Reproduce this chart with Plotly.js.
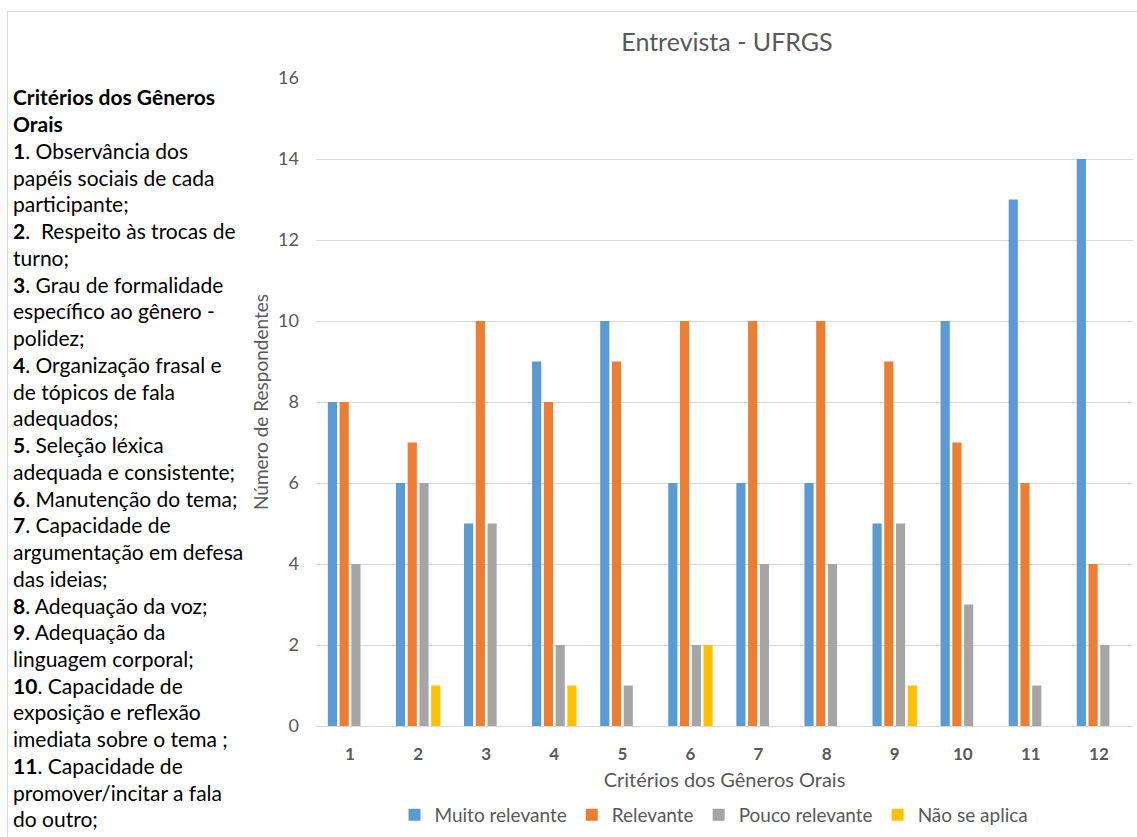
<!DOCTYPE html>
<html>
<head>
<meta charset="utf-8">
<script src="https://cdn.plot.ly/plotly-3.0.1.min.js"></script>
<style>
html,body{margin:0;padding:0;background:#fff;}
#wrap{position:relative;width:1137px;height:837px;overflow:hidden;}
#frame{position:absolute;left:7px;top:11px;width:1140px;height:840px;border-left:1px solid #d9d9d9;border-top:1px solid #d9d9d9;pointer-events:none;}
#chart{position:absolute;left:0;top:0;width:1137px;height:837px;}
</style>
</head>
<body>
<div id="wrap"><div id="chart"></div><div id="frame"></div></div>
<script>
const categories = ["1","2","3","4","5","6","7","8","9","10","11","12"];
const muitoRelevante = [8,6,5,9,10,6,6,6,5,10,13,14];
const relevante = [8,7,10,8,9,10,10,10,9,7,6,4];
const poucoRelevante = [4,6,5,2,1,2,4,4,5,3,1,2];
const naoSeAplica = [0,1,0,1,0,2,0,0,1,0,0,0];
const seriesNames = ["Muito relevante","Relevante","Pouco relevante","Não se aplica"];
const seriesColors = ["#5b9bd5","#ed7d31","#a5a5a5","#ffc000"];
const chartTitle = "Entrevista - UFRGS";
const xTitle = "Critérios dos Gêneros Orais";
const yTitle = "Número de Respondentes";
const sideLines = [
  "<b>Critérios dos Gêneros</b>",
  "<b>Orais</b>",
  "<b>1</b>. Observância dos",
  "papéis sociais de cada",
  "participante;",
  "<b>2</b>.  Respeito às trocas de",
  "turno;",
  "<b>3</b>. Grau de formalidade",
  "específico ao gênero -",
  "polidez;",
  "<b>4</b>. Organização frasal e",
  "de tópicos de fala",
  "adequados;",
  "<b>5</b>. Seleção léxica",
  "adequada e consistente;",
  "<b>6</b>. Manutenção do tema;",
  "<b>7</b>. Capacidade de",
  "argumentação em defesa",
  "das ideias;",
  "<b>8</b>. Adequação da voz;",
  "<b>9</b>. Adequação da",
  "linguagem corporal;",
  "<b>10</b>. Capacidade de",
  "exposição e reflexão",
  "imediata sobre o tema ;",
  "<b>11</b>. Capacidade de",
  "promover/incitar a fala",
  "do outro;"
];

const FONT = "Lato, 'Open Sans', sans-serif";
const values = [muitoRelevante, relevante, poucoRelevante, naoSeAplica];
const traces = values.map((v, i) => ({
  type: "bar",
  name: seriesNames[i],
  x: categories,
  y: v,
  marker: {color: seriesColors[i]},
  hoverinfo: "x+y+name"
}));

const W = 1137, H = 837;
const ml = 316, mr = 4, mt = 78, mb = 110;
const plotW = W - ml - mr;
const plotH = H - mt - mb;
const annotations = sideLines.map((t, i) => ({
  text: t,
  xref: "paper", yref: "paper",
  x: (11 - ml) / plotW,
  y: (H - mb - (97 + i * 26.78)) / plotH,
  xanchor: "left", yanchor: "middle",
  showarrow: false,
  align: "left",
  font: {family: FONT, size: 21, color: "#000000"}
}));

const layout = {
  width: W, height: H,
  margin: {l: ml, r: mr, t: mt, b: mb, pad: 0},
  paper_bgcolor: "#ffffff",
  plot_bgcolor: "#ffffff",
  font: {family: FONT, color: "#595959"},
  title: {
    text: chartTitle,
    font: {family: FONT, size: 25, color: "#595959"},
    xref: "container", yref: "container",
    x: 727 / W, y: 1 - 42 / H, xanchor: "center", yanchor: "middle"
  },
  barmode: "group",
  bargap: 0.31,
  bargroupgap: 0.22,
  xaxis: {
    type: "category",
    title: {text: xTitle, font: {family: FONT, size: 20, color: "#595959"}, standoff: 9},
    tickfont: {family: FONT, size: 17, color: "#595959", weight: "bold"},
    showline: true, linecolor: "#d9d9d9", linewidth: 1,
    ticks: "", showgrid: false,
    ticklabelstandoff: 13
  },
  yaxis: {
    range: [0, 16], dtick: 2,
    title: {text: yTitle, font: {family: FONT, size: 19, color: "#595959"}, standoff: 4},
    tickfont: {family: FONT, size: 18, color: "#595959"},
    showgrid: true, gridcolor: "#d9d9d9", gridwidth: 1,
    zeroline: false, showline: false, ticks: "",
    ticklabelstandoff: 16
  },
  legend: {
    orientation: "h",
    x: (714 - ml) / plotW, xanchor: "center",
    y: -(815 - (H - mb)) / plotH, yanchor: "middle",
    font: {family: FONT, size: 19, color: "#595959"},
    itemclick: false, itemdoubleclick: false,
    traceorder: "normal"
  },
  annotations: annotations,
  showlegend: true
};

Plotly.newPlot("chart", traces, layout, {displayModeBar: false});
</script>
</body>
</html>
